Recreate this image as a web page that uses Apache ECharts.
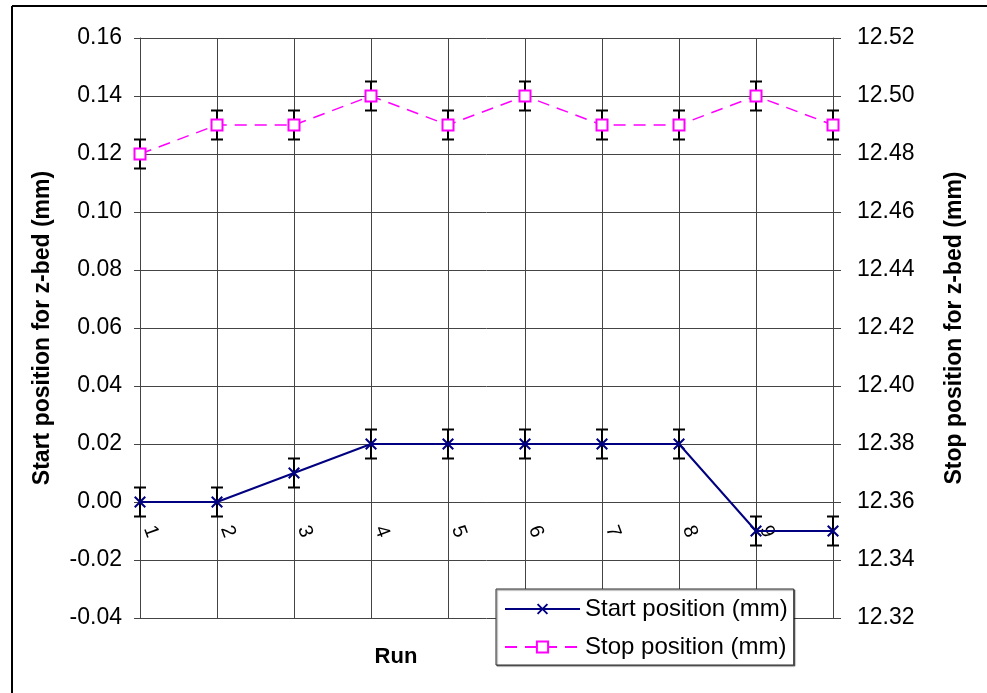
<!DOCTYPE html>
<html>
<head>
<meta charset="utf-8">
<script src="https://cdn.jsdelivr.net/npm/echarts@6/dist/echarts.min.js"></script>
<style>
html,body{margin:0;padding:0;background:#fff;}
#chart{width:987px;height:693px;}
</style>
</head>
<body>
<div id="chart"></div>
<script>
var runs = ['1','2','3','4','5','6','7','8','9','10'];
var startPos = [0.00, 0.00, 0.01, 0.02, 0.02, 0.02, 0.02, 0.02, -0.01, -0.01];
var stopPos = [12.48, 12.49, 12.49, 12.50, 12.49, 12.50, 12.49, 12.49, 12.50, 12.49];
var startErr = [0.005, 0.005, 0.005, 0.005, 0.005, 0.005, 0.005, 0.005, 0.005, 0.005];
var stopErr = [0.005, 0.005, 0.005, 0.005, 0.005, 0.005, 0.005, 0.005, 0.005, 0.005];
var seriesNames = ['Start position (mm)', 'Stop position (mm)'];
var leftTitle = 'Start position for z-bed (mm)';
var rightTitle = 'Stop position for z-bed (mm)';
var xTitle = 'Run';

var FONT = 'Liberation Sans, Arial, sans-serif';
var X_SYMBOL = 'path://M0,1.2 L1.2,0 L5,3.8 L8.8,0 L10,1.2 L6.2,5 L10,8.8 L8.8,10 L5,6.2 L1.2,10 L0,8.8 L3.8,5 Z';

function errData(vals, errs) {
  return vals.map(function (v, i) { return [i, v, errs[i]]; });
}
function errRender(params, api) {
  var i = api.value(0), v = api.value(1), e = api.value(2);
  var hi = api.coord([i, v + e]);
  var lo = api.coord([i, v - e]);
  var w = 6;
  var st = { stroke: '#000', lineWidth: 2 };
  return {
    type: 'group',
    children: [
      { type: 'line', shape: { x1: hi[0], y1: hi[1], x2: lo[0], y2: lo[1] }, style: st },
      { type: 'line', shape: { x1: hi[0] - w, y1: hi[1], x2: hi[0] + w, y2: hi[1] }, style: st },
      { type: 'line', shape: { x1: lo[0] - w, y1: lo[1], x2: lo[0] + w, y2: lo[1] }, style: st }
    ]
  };
}

var chart = echarts.init(document.getElementById('chart'), null, { renderer: 'canvas' });
chart.setOption({
  animation: false,
  backgroundColor: '#fff',
  textStyle: { fontFamily: FONT },
  grid: { left: 140, right: 154, top: 38, bottom: 75, containLabel: false },
  legend: {
    orient: 'vertical',
    left: 496, top: 589,
    padding: [8, 6, 6, 8],
    itemWidth: 75, itemHeight: 14, itemGap: 14,
    backgroundColor: '#fff',
    borderColor: '#333', borderWidth: 1,
    shadowColor: 'rgba(0,0,0,0.5)', shadowOffsetX: 1, shadowOffsetY: 1, shadowBlur: 1,
    textStyle: { fontSize: 24, color: '#000', fontFamily: FONT, lineHeight: 24 },
    data: seriesNames
  },
  xAxis: {
    type: 'category',
    data: runs,
    boundaryGap: false,
    offset: -116,
    axisLine: { onZero: false, lineStyle: { color: '#444', width: 1 } },
    axisTick: { show: false },
    axisLabel: {
      rotate: -70, margin: 0, padding: [0, 0, 0, 26],
      fontSize: 20, color: '#000', fontFamily: FONT,
      interval: function (idx) { return idx < 9; }
    },
    splitLine: { show: true, lineStyle: { color: '#444', width: 1 } }
  },
  yAxis: [
    {
      type: 'value', min: -0.04, max: 0.16, interval: 0.02,
      name: leftTitle, nameLocation: 'middle', nameGap: 86, nameRotate: 90,
      nameTextStyle: { fontSize: 23, fontWeight: 'bold', color: '#000', fontFamily: FONT },
      axisLine: { show: true, onZero: false, lineStyle: { color: '#444' } },
      axisTick: { show: true, length: 6, lineStyle: { color: '#444' } },
      axisLabel: { margin: 18, fontSize: 23, color: '#000', fontFamily: FONT,
        formatter: function (v) { return v.toFixed(2); } },
      splitLine: { show: true, lineStyle: { color: '#444', width: 1 } }
    },
    {
      type: 'value', min: 12.32, max: 12.52, interval: 0.02,
      name: rightTitle, nameLocation: 'middle', nameGap: 110, nameRotate: 90,
      nameTextStyle: { fontSize: 23, fontWeight: 'bold', color: '#000', fontFamily: FONT },
      axisLine: { show: true, onZero: false, lineStyle: { color: '#444' } },
      axisTick: { show: true, length: 8, lineStyle: { color: '#444' } },
      axisLabel: { margin: 24, fontSize: 23, color: '#000', fontFamily: FONT,
        formatter: function (v) { return v.toFixed(2); } },
      splitLine: { show: false }
    }
  ],
  graphic: [
    { type: 'line', shape: { x1: 12, y1: 6, x2: 12, y2: 693 }, style: { stroke: '#000', lineWidth: 2 } },
    { type: 'line', shape: { x1: 12, y1: 6, x2: 987, y2: 6 }, style: { stroke: '#000', lineWidth: 2 } },
    { type: 'text', x: 396, y: 657, style: { text: xTitle, fontSize: 22, fontWeight: 'bold', fill: '#000',
      fontFamily: FONT, textAlign: 'center', textVerticalAlign: 'middle' } }
  ],
  series: [
    {
      type: 'custom', name: 'startErr', yAxisIndex: 0, z: 2,
      renderItem: errRender, data: errData(startPos, startErr), silent: true
    },
    {
      type: 'custom', name: 'stopErr', yAxisIndex: 1, z: 2,
      renderItem: errRender, data: errData(stopPos, stopErr), silent: true
    },
    {
      name: seriesNames[0], type: 'line', yAxisIndex: 0, z: 3,
      data: startPos,
      symbol: X_SYMBOL, symbolSize: 12,
      lineStyle: { color: '#000080', width: 2 },
      itemStyle: { color: '#000080' }
    },
    {
      name: seriesNames[1], type: 'line', yAxisIndex: 1, z: 3,
      data: stopPos,
      symbol: 'emptyRect', symbolSize: 11,
      lineStyle: { color: '#FF00FF', width: 1.5, type: [12, 8] },
      itemStyle: { color: '#FF00FF', borderWidth: 2 }
    }
  ]
});
</script>
</body>
</html>
